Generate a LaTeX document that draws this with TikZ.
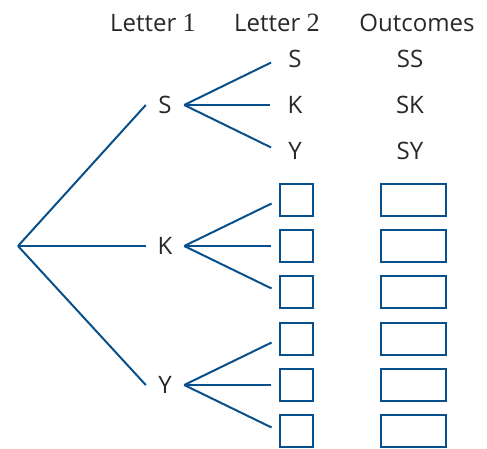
\documentclass[tikz,border=0pt]{standalone}
\usepackage{fontspec}
\setmainfont{Open Sans}
\newfontfamily\digitfont[Scale=1.1]{Liberation Serif}
\usetikzlibrary{positioning}
\definecolor{treeblue}{RGB}{8,80,140}
\definecolor{treetext}{RGB}{40,40,40}

\begin{document}
\begin{tikzpicture}[x=1pt,y=-1pt]
    \tikzset{branch/.style={draw=treeblue,line width=2pt},
      label/.style={text=treetext,inner sep=0pt,font=\fontsize{24}{28}\selectfont},
      first/.style={label,minimum width=38pt,minimum height=24pt},
      leaf/.style={label,minimum width=33pt,minimum height=32pt},
      leafbox/.style={leaf,draw=treeblue,line width=2.4pt},
      outcome/.style={label,minimum width=65pt,minimum height=32pt},
      outbox/.style={outcome,draw=treeblue,line width=2.4pt}}
    \useasboundingbox (0,0) rectangle (487,448);
    % column heads
    \node[label] (head1) at (153,23) {Letter {\digitfont 1}};
    \node[label] (head2) at (277,23) {Letter {\digitfont 2}};
    \node[label] (head3) at (417,23) {Outcomes};
    \coordinate (root) at (18,246);
    \foreach \l/\y [count=\i] in {S/105,K/246,Y/385}{
      \node[first] (f\i) at (165,\y) {\l};
      \draw[branch] (root) -- (f\i.west);
      \foreach \m/\d [count=\j] in {S/-46,K/0,Y/46}{
        \ifnum\i=1
          \node[leaf] (l\i\j) at (295,{\y+\d}) {\m};
          \node[outcome] (o\i\j) at (410,{\y+\d}) {\l\m};
        \else
          \node[leafbox] (l\i\j) at (296.5,{\y+\d}) {};
          \node[outbox] (o\i\j) at (413.5,{\y+\d}) {};
        \fi
        \draw[branch,shorten >=8pt] (f\i.east) -- (l\i\j.west);
      }
    }
  \end{tikzpicture}
\end{document}
